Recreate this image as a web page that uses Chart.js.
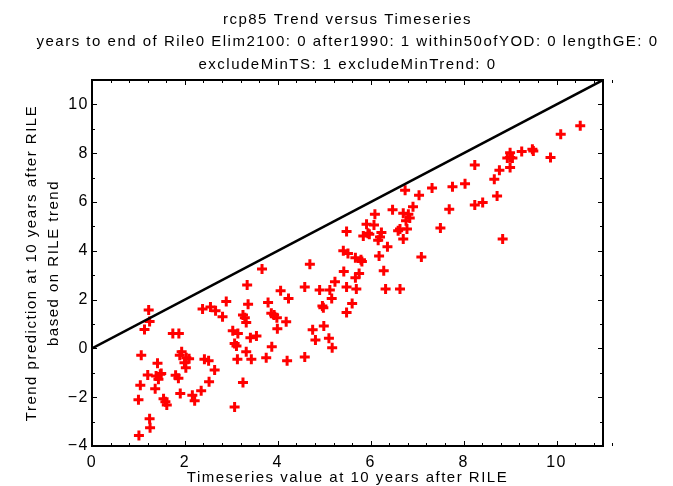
<!DOCTYPE html>
<html>
<head>
<meta charset="utf-8">
<script src="https://cdn.jsdelivr.net/npm/chart.js@4/dist/chart.umd.min.js"></script>
<style>
html,body{margin:0;padding:0;background:#fff;}
canvas{display:block;}
</style>
</head>
<body>
<canvas id="c" width="673" height="486"></canvas>
<script>
// Timeseries value at 10 years after RILE
const timeseriesValues = [
  1.22,1.24,1.13,1.74,1.87,1.06,1.41,1.20,1.38,1.47,1.43,1.49,1.04,1.36,1.00,1.54,1.58,1.61,1.24,1.25,1.01,
  1.93,1.89,2.03,2.09,1.99,2.02,1.80,1.86,1.90,2.16,2.21,2.35,2.42,2.51,2.64,2.52,2.38,2.55,2.66,2.81,2.89,
  3.03,3.14,3.07,3.11,3.41,3.54,3.25,3.29,3.32,3.36,3.32,3.43,3.13,3.75,3.25,3.07,3.79,
  3.66,3.34,3.87,3.86,3.92,3.98,4.18,3.99,4.06,4.23,4.20,4.58,4.58,4.69,4.90,5.12,5.16,4.96,4.98,4.75,4.99,4.81,5.10,5.17,5.23,5.42,5.48,5.67,5.69,5.60,5.48,5.41,5.51,5.67,
  6.74,7.04,7.32,7.76,8.03,8.24,7.69,7.50,7.09,6.47,6.91,6.70,6.81,6.84,6.76,6.63,6.59,6.78,6.70,6.09,5.91,6.07,5.48,5.84,5.94,5.97,6.23,6.20,6.16,6.36,5.79,5.81,6.18,5.75,6.28,6.32,6.63,
  10.51,10.09,9.87,9.48,9.25,9.50,9.00,9.00,8.94,9.05,9.00,8.77,8.66,8.24,8.41,8.72,8.84
];
// Trend prediction at 10 years after RILE
const trendPredictions = [
  1.57,1.10,0.77,0.61,0.61,-0.28,-0.61,-1.09,-1.13,-1.06,-1.26,-1.03,-1.51,-1.65,-2.10,-2.06,-2.19,-2.32,-2.88,-3.25,-3.57,
  -0.14,-0.28,-0.38,-0.42,-0.59,-0.79,-1.10,-1.22,-1.85,-1.92,-2.15,-1.74,-0.44,-0.51,-0.89,-1.37,1.61,1.70,1.54,1.30,1.92,
  0.72,0.61,0.20,0.10,0.44,0.51,1.37,1.26,1.06,1.81,-0.14,-0.44,-0.44,-0.38,-1.40,-2.40,1.88,
  3.25,2.60,0.07,1.44,1.37,1.26,1.09,0.81,2.36,2.04,-0.51,-0.35,2.52,3.45,2.39,2.39,2.04,1.74,1.67,0.76,0.92,0.34,0.42,0.03,2.73,3.15,2.52,2.90,2.43,1.84,1.47,4.00,3.89,3.72,
  6.48,6.28,6.57,6.62,6.75,5.88,5.70,4.93,3.75,5.68,5.81,5.54,5.50,5.34,5.23,4.89,4.82,4.89,4.48,5.50,5.09,5.06,4.79,4.61,4.72,4.68,4.75,4.57,4.43,4.17,3.63,3.56,3.79,3.07,3.18,2.43,2.43,
  9.12,8.78,7.82,8.16,8.07,8.09,8.02,7.82,7.80,7.80,7.41,7.30,6.93,7.52,5.98,6.25,4.48
];
// 1:1 reference line
const oneToOneX = [0, 11];
const oneToOneY = [0, 11];
// axis ticks
const xTickValues = [0, 2, 4, 6, 8, 10];
const yTickValues = [-4, -2, 0, 2, 4, 6, 8, 10];
const xMinorStep = 0.4;
const yMinorStep = 1;
const xRange = [0, 11];
const yRange = [-4, 11];

const titleLines = [
  'rcp85 Trend versus Timeseries',
  'years to end of Rile0 Elim2100: 0 after1990: 1 within50ofYOD: 0 lengthGE: 0',
  'excludeMinTS: 1 excludeMinTrend: 0'
];
const xTitle = 'Timeseries value at 10 years after RILE';
const yTitle = ['Trend prediction at 10 years after RILE', 'based on RILE trend'];

const FONT = '"Liberation Sans", Arial, Helvetica, sans-serif';
const FSIZE = 15;
const SPACING = '1.5px';

const scatterPoints = timeseriesValues.map((x, i) => ({x: x, y: trendPredictions[i]}));
const linePoints = oneToOneX.map((x, i) => ({x: x, y: oneToOneY[i]}));

const framePlugin = {
  id: 'frame',
  beforeDraw(chart) {
    const ctx = chart.ctx;
    ctx.save();
    ctx.fillStyle = '#fff';
    ctx.fillRect(0, 0, chart.width, chart.height);
    ctx.restore();
    try { ctx.letterSpacing = SPACING; } catch (e) {}
  },
  afterDatasetsDraw(chart) {
    const {ctx, chartArea: a, scales} = chart;
    const xs = scales.x, ys = scales.y;
    ctx.save();
    ctx.strokeStyle = '#000';
    ctx.lineWidth = 1;
    ctx.beginPath();
    const nx = Math.round((xRange[1] - xRange[0]) / xMinorStep);
    for (let i = 0; i <= nx; i++) {
      const v = xRange[0] + i * xMinorStep;
      const major = xTickValues.some(t => Math.abs(t - v) < 1e-6);
      const L = major ? 5 : 3;
      const px = Math.round(xs.getPixelForValue(v)) + 0.5;
      ctx.moveTo(px, a.bottom); ctx.lineTo(px, a.bottom - L);
      ctx.moveTo(px, a.top); ctx.lineTo(px, a.top + L);
    }
    const ny = Math.round((yRange[1] - yRange[0]) / yMinorStep);
    for (let i = 0; i <= ny; i++) {
      const v = yRange[0] + i * yMinorStep;
      const major = yTickValues.some(t => Math.abs(t - v) < 1e-6);
      const L = major ? 5 : 3;
      const py = Math.round(ys.getPixelForValue(v)) + 0.5;
      ctx.moveTo(a.left, py); ctx.lineTo(a.left + L, py);
      ctx.moveTo(a.right, py); ctx.lineTo(a.right - L, py);
    }
    ctx.stroke();
    ctx.lineWidth = 2;
    ctx.strokeRect(a.left, a.top, a.right - a.left, a.bottom - a.top);
    ctx.restore();
  },
  afterDraw(chart) {
    // chart title, centred over the axes (as in the original figure)
    const {ctx, chartArea: a} = chart;
    ctx.save();
    try { ctx.letterSpacing = SPACING; } catch (e) {}
    ctx.fillStyle = '#000';
    ctx.font = FSIZE + 'px ' + FONT;
    ctx.textAlign = 'center';
    ctx.textBaseline = 'alphabetic';
    const cx = (a.left + a.right) / 2;
    titleLines.forEach((t, i) => ctx.fillText(t, cx, 24 + i * 22.3));
    ctx.restore();
  }
};

new Chart(document.getElementById('c'), {
  type: 'scatter',
  data: {
    datasets: [
      {
        type: 'line',
        data: linePoints,
        borderColor: '#000',
        borderWidth: 2.5,
        pointRadius: 0,
        fill: false,
        order: 0
      },
      {
        data: scatterPoints,
        pointStyle: 'cross',
        pointRadius: 5,
        pointHoverRadius: 5,
        borderColor: '#ff0000',
        backgroundColor: '#ff0000',
        pointBorderWidth: 3,
        borderWidth: 3,
        order: 1
      }
    ]
  },
  options: {
    responsive: false,
    animation: false,
    events: [],
    layout: {padding: {left: 0, right: 70, top: 80, bottom: 0}},
    plugins: {
      legend: {display: false},
      tooltip: {enabled: false},
      title: {display: false}
    },
    scales: {
      x: {
        type: 'linear',
        min: xRange[0], max: xRange[1],
        afterBuildTicks(s) { s.ticks = xTickValues.map(v => ({value: v})); },
        afterFit(s) { s.height = 40; },
        grid: {display: false, drawTicks: false},
        border: {display: false},
        ticks: {color: '#000', font: {family: FONT, size: 16}, padding: 7, maxRotation: 0, autoSkip: false},
        title: {display: true, text: xTitle, color: '#000', font: {family: FONT, size: FSIZE, lineHeight: 1}, padding: {top: 0, bottom: 0.5}}
      },
      y: {
        type: 'linear',
        min: yRange[0], max: yRange[1],
        afterBuildTicks(s) { s.ticks = yTickValues.map(v => ({value: v})); },
        afterFit(s) { s.width = 92; },
        grid: {display: false, drawTicks: false},
        border: {display: false},
        ticks: {color: '#000', font: {family: FONT, size: 16}, padding: 3, autoSkip: false,
          callback: v => (v < 0 ? '\u2212' + Math.abs(v) : String(v))},
        title: {display: true, text: yTitle, color: '#000', font: {family: FONT, size: FSIZE, lineHeight: 1.44}, padding: {top: 21, bottom: 0}}
      }
    }
  },
  plugins: [framePlugin]
});
</script>
</body>
</html>
